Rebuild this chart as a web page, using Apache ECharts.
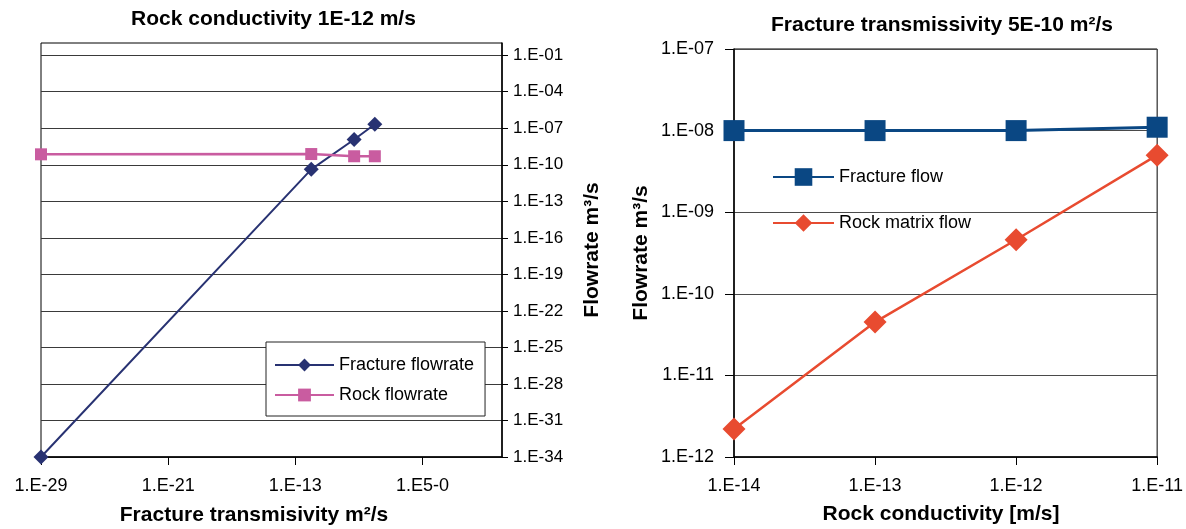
<!DOCTYPE html>
<html>
<head>
<meta charset="utf-8">
<script src="https://cdn.jsdelivr.net/npm/echarts@6/dist/echarts.min.js"></script>
<style>
  html, body { margin: 0; padding: 0; background: #fff; }
  #chart { width: 1186px; height: 529px; }
</style>
</head>
<body>
<div id="chart"></div>
<script>
// ---- Left panel: rock conductivity fixed at 1E-12 m/s ----
const transmissivity   = [1e-29, 1e-12, 5e-10, 1e-8];          // m2/s
const fractureFlowrate = [1e-34, 4.2e-11, 1.2e-8, 2.1e-7];     // m3/s
const rockFlowrate     = [7.2e-10, 7.6e-10, 5e-10, 5e-10];     // m3/s
const leftXRange       = [1e-29, 1];
const leftXTicks       = [1e-29, 1e-21, 1e-13, 1e-5];
const leftXTickLabels  = ['1.E-29', '1.E-21', '1.E-13', '1.E5-0'];
const leftYRange       = [1e-34, 1];
const leftYTicks       = [1e-34, 1e-31, 1e-28, 1e-25, 1e-22, 1e-19, 1e-16, 1e-13, 1e-10, 1e-7, 1e-4, 1e-1];
const leftYTickLabels  = ['1.E-34', '1.E-31', '1.E-28', '1.E-25', '1.E-22', '1.E-19', '1.E-16', '1.E-13', '1.E-10', '1.E-07', '1.E-04', '1.E-01'];

// ---- Right panel: fracture transmissivity fixed at 5E-10 m2/s ----
const conductivity     = [1e-14, 1e-13, 1e-12, 1e-11];         // m/s
const fractureFlow     = [1e-8, 1e-8, 1e-8, 1.1e-8];           // m3/s
const rockMatrixFlow   = [2.2e-12, 4.5e-11, 4.6e-10, 5e-9];    // m3/s
const rightXRange      = [1e-14, 1e-11];
const rightXTicks      = [1e-14, 1e-13, 1e-12, 1e-11];
const rightXTickLabels = ['1.E-14', '1.E-13', '1.E-12', '1.E-11'];
const rightYRange      = [1e-12, 1e-7];
const rightYTicks      = [1e-12, 1e-11, 1e-10, 1e-9, 1e-8, 1e-7];
const rightYTickLabels = ['1.E-12', '1.E-11', '1.E-10', '1.E-09', '1.E-08', '1.E-07'];

// decades are plotted on linear value axes
const lg = v => Math.round(Math.log10(v) * 1e6) / 1e6;
const pairs = (xs, ys) => xs.map((x, i) => [lg(x), lg(ys[i])]);
const labelFor = (ticks, labels) => v => {
  const i = ticks.findIndex(t => Math.abs(lg(t) - v) < 1e-6);
  return i < 0 ? '' : labels[i];
};

const FONT = '"Liberation Sans", Arial, Helvetica, sans-serif';
const BLACK = '#000';

function axisBase(extra) {
  return Object.assign({
    type: 'value',
    axisLine: { show: true, onZero: false, lineStyle: { color: BLACK, width: 1.5 } },
    splitLine: { show: false }
  }, extra);
}

const chart = echarts.init(document.getElementById('chart'), null, { renderer: 'canvas' });

chart.setOption({
  animation: false,
  backgroundColor: '#fff',
  grid: [
    { left: 41, top: 43, width: 461, height: 414, show: true, borderColor: BLACK, borderWidth: 1, backgroundColor: 'transparent' },
    { left: 734, top: 49, width: 429, height: 408, show: true, borderColor: BLACK, borderWidth: 1, backgroundColor: 'transparent' }
  ],
  xAxis: [
    axisBase({
      gridIndex: 0, min: lg(leftXRange[0]), max: lg(leftXRange[1]), interval: 8,
      axisTick: { show: true, length: 8, lineStyle: { color: BLACK }, customValues: leftXTicks.map(lg) },
      axisLabel: { customValues: leftXTicks.map(lg), formatter: labelFor(leftXTicks, leftXTickLabels),
                   fontSize: 18, color: BLACK, fontFamily: FONT, margin: 20 }
    }),
    axisBase({
      gridIndex: 1, min: lg(rightXRange[0]), max: lg(rightXRange[1]), interval: 1,
      axisTick: { show: true, length: 8, lineStyle: { color: BLACK } },
      axisLabel: { formatter: labelFor(rightXTicks, rightXTickLabels),
                   fontSize: 18, color: BLACK, fontFamily: FONT, margin: 20 }
    })
  ],
  yAxis: [
    axisBase({
      gridIndex: 0, position: 'right', min: lg(leftYRange[0]), max: lg(leftYRange[1]), interval: 3,
      axisTick: { show: true, length: 6, lineStyle: { color: BLACK }, customValues: leftYTicks.map(lg) },
      axisLabel: { customValues: leftYTicks.map(lg), formatter: labelFor(leftYTicks, leftYTickLabels),
                   fontSize: 17, color: BLACK, fontFamily: FONT, margin: 11 },
      splitLine: { show: true, lineStyle: { color: '#3a3a3a', width: 1 } }
    }),
    axisBase({
      gridIndex: 1, position: 'left', min: lg(rightYRange[0]), max: lg(rightYRange[1]), interval: 1,
      axisTick: { show: true, length: 9, lineStyle: { color: BLACK } },
      axisLabel: { formatter: labelFor(rightYTicks, rightYTickLabels),
                   fontSize: 18, color: BLACK, fontFamily: FONT, margin: 20 },
      splitLine: { show: true, lineStyle: { color: '#4a4a4a', width: 1 } }
    })
  ],
  legend: [
    {
      data: ['Fracture flowrate', 'Rock flowrate'],
      orient: 'vertical', left: 266, top: 342,
      padding: [14, 11, 12, 8], itemGap: 12, itemWidth: 59, itemHeight: 16,
      backgroundColor: '#fff', borderColor: '#222', borderWidth: 1,
      textStyle: { fontSize: 18, color: BLACK, fontFamily: FONT },
      selectedMode: false
    },
    {
      data: ['Fracture flow', 'Rock matrix flow'],
      orient: 'vertical', left: 772, top: 168,
      padding: 0, itemGap: 28, itemWidth: 61, itemHeight: 22,
      textStyle: { fontSize: 18, color: BLACK, fontFamily: FONT },
      selectedMode: false
    }
  ],
  series: [
    {
      name: 'Fracture flowrate', type: 'line', xAxisIndex: 0, yAxisIndex: 0,
      data: pairs(transmissivity, fractureFlowrate),
      symbol: 'diamond', symbolSize: 15,
      lineStyle: { color: '#283272', width: 2 }, itemStyle: { color: '#283272' }
    },
    {
      name: 'Rock flowrate', type: 'line', xAxisIndex: 0, yAxisIndex: 0,
      data: pairs(transmissivity, rockFlowrate),
      symbol: 'rect', symbolSize: 12,
      lineStyle: { color: '#c95ca0', width: 2.5 }, itemStyle: { color: '#c95ca0' }
    },
    {
      name: 'Fracture flow', type: 'line', xAxisIndex: 1, yAxisIndex: 1,
      data: pairs(conductivity, fractureFlow),
      symbol: 'rect', symbolSize: 21,
      lineStyle: { color: '#0a4783', width: 3 }, itemStyle: { color: '#0a4783' }
    },
    {
      name: 'Rock matrix flow', type: 'line', xAxisIndex: 1, yAxisIndex: 1,
      data: pairs(conductivity, rockMatrixFlow),
      symbol: 'diamond', symbolSize: 23,
      lineStyle: { color: '#e84b30', width: 2.5 }, itemStyle: { color: '#e84b30' }
    }
  ],
  graphic: [
    { type: 'text', x: 273.5, y: 19.5, style: { text: 'Rock conductivity 1E-12 m/s', font: 'bold 21px ' + FONT, fill: BLACK, align: 'center', verticalAlign: 'middle' } },
    { type: 'text', x: 942, y: 25, style: { text: 'Fracture transmissivity 5E-10 m²/s', font: 'bold 21px ' + FONT, fill: BLACK, align: 'center', verticalAlign: 'middle' } },
    { type: 'text', x: 254, y: 515.5, style: { text: 'Fracture transmisivity m²/s', font: 'bold 21px ' + FONT, fill: BLACK, align: 'center', verticalAlign: 'middle' } },
    { type: 'text', x: 941, y: 514, style: { text: 'Rock conductivity [m/s]', font: 'bold 21px ' + FONT, fill: BLACK, align: 'center', verticalAlign: 'middle' } },
    { type: 'text', x: 592, y: 250, rotation: Math.PI / 2, style: { text: 'Flowrate m³/s', font: 'bold 21px ' + FONT, fill: BLACK, align: 'center', verticalAlign: 'middle' } },
    { type: 'text', x: 641, y: 253, rotation: Math.PI / 2, style: { text: 'Flowrate m³/s', font: 'bold 21px ' + FONT, fill: BLACK, align: 'center', verticalAlign: 'middle' } }
  ]
});
</script>
</body>
</html>
